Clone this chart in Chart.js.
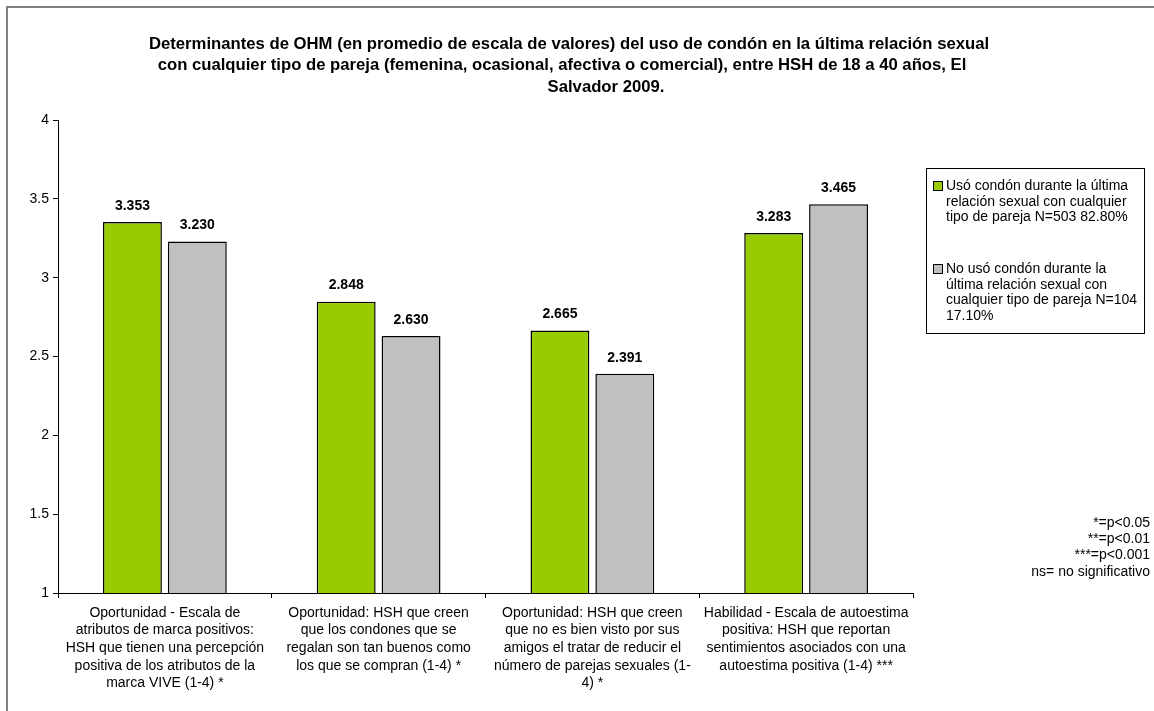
<!DOCTYPE html>
<html>
<head>
<meta charset="utf-8">
<script src="https://cdn.jsdelivr.net/npm/chart.js@4/dist/chart.umd.min.js"></script>
<style>
  html, body { margin: 0; padding: 0; background: #fff; }
  #wrap { width: 1154px; height: 711px; position: relative; }
</style>
</head>
<body>
<div id="wrap"><canvas id="ohmChart" width="1154" height="711"></canvas></div>
<script>
// data
const categories = [
  ["Oportunidad - Escala de", "atributos de marca positivos:", "HSH que tienen una percepción", "positiva de los atributos de la", "marca VIVE (1-4) *"],
  ["Oportunidad: HSH que creen", "que los condones que se", "regalan son tan buenos como", "los que se compran (1-4) *"],
  ["Oportunidad: HSH que creen", "que no es bien visto por sus", "amigos el tratar de reducir el", "número de parejas sexuales (1-", "4) *"],
  ["Habilidad - Escala de autoestima", "positiva: HSH que reportan", "sentimientos asociados con una", "autoestima positiva (1-4) ***"]
];
const usoValues = [3.353, 2.848, 2.665, 3.283];
const noUsoValues = [3.230, 2.630, 2.391, 3.465];
const seriesLabels = [
  ["Usó condón durante la última", "relación sexual con cualquier", "tipo de pareja N=503 82.80%"],
  ["No usó condón durante la", "última relación sexual con", "cualquier tipo de pareja N=104", "17.10%"]
];
const titleLines = [
  "Determinantes de OHM (en promedio de escala de valores) del uso de condón en la última relación sexual",
  "con cualquier tipo de pareja (femenina, ocasional, afectiva o comercial), entre HSH de 18 a 40 años, El",
  "Salvador 2009."
];
const footnotes = ["*=p<0.05", "**=p<0.01", "***=p<0.001", "ns= no significativo"];

const FONT = "Arial, 'Liberation Sans', sans-serif";
const colors = ["#99CC00", "#C0C0C0"];

// draws frame, title, value labels, legend and footnotes
const extrasPlugin = {
  id: 'extras',
  beforeDraw(chart) {
    const ctx = chart.ctx;
    ctx.save();
    ctx.fillStyle = '#fff';
    ctx.fillRect(0, 0, chart.width, chart.height);
    ctx.strokeStyle = '#808080';
    ctx.lineWidth = 2;
    ctx.strokeRect(7, 7, 1160, 720);
    ctx.restore();
  },
  afterDraw(chart) {
    const ctx = chart.ctx;
    ctx.save();
    // title
    ctx.fillStyle = '#000';
    ctx.font = "bold 16.7px " + FONT;
    ctx.textAlign = 'center';
    ctx.textBaseline = 'middle';
    ctx.fillText(titleLines[0], 569, 44);
    ctx.fillText(titleLines[1], 562, 65);
    ctx.fillText(titleLines[2], 606, 87);

    // value labels
    ctx.font = "bold 14px " + FONT;
    chart.data.datasets.forEach((ds, di) => {
      chart.getDatasetMeta(di).data.forEach((bar, i) => {
        ctx.fillText(ds.data[i].toFixed(3), bar.x, bar.y - 16);
      });
    });

    // legend
    ctx.strokeStyle = '#000';
    ctx.lineWidth = 1;
    ctx.strokeRect(926.5, 168.5, 218, 165);
    ctx.font = "14px " + FONT;
    ctx.textAlign = 'left';
    const starts = [186, 269];
    seriesLabels.forEach((lines, si) => {
      ctx.fillStyle = colors[si];
      ctx.fillRect(933.5, starts[si] - 4.5, 9, 9);
      ctx.strokeRect(933.5, starts[si] - 4.5, 9, 9);
      ctx.fillStyle = '#000';
      lines.forEach((ln, li) => ctx.fillText(ln, 946, starts[si] + li * 15.8));
    });

    // footnotes
    ctx.textAlign = 'right';
    footnotes.forEach((ln, i) => ctx.fillText(ln, 1150, 523 + i * 16.3));
    ctx.restore();
  }
};

const ohmChart = new Chart(document.getElementById('ohmChart').getContext('2d'), {
  type: 'bar',
  data: {
    labels: categories,
    datasets: [
      { label: seriesLabels[0].join(' '), data: usoValues, backgroundColor: colors[0], borderColor: '#000', borderWidth: 1.5 },
      { label: seriesLabels[1].join(' '), data: noUsoValues, backgroundColor: colors[1], borderColor: '#000', borderWidth: 1.5 }
    ]
  },
  options: {
    responsive: false,
    animation: false,
    devicePixelRatio: 1,
    categoryPercentage: 0.607,
    barPercentage: 0.908,
    layout: { padding: { left: 8, right: 241, top: 120, bottom: 0 } },
    plugins: {
      legend: { display: false },
      title: { display: false },
      tooltip: { enabled: false }
    },
    scales: {
      x: {
        afterFit: s => { s.height = 118; },
        border: { color: '#000', width: 1 },
        grid: { drawOnChartArea: false, drawTicks: true, tickLength: 5, color: '#000', offset: true },
        ticks: { color: '#000', font: { family: FONT, size: 14, lineHeight: 1.26 }, padding: 6, maxRotation: 0, autoSkip: false }
      },
      y: {
        min: 1,
        max: 4,
        afterFit: s => { s.width = 50; },
        border: { color: '#000', width: 1 },
        grid: { drawOnChartArea: false, drawTicks: true, tickLength: 5, color: '#000' },
        ticks: { stepSize: 0.5, color: '#000', font: { family: FONT, size: 14 }, padding: 4, callback: v => String(v) }
      }
    }
  },
  plugins: [extrasPlugin]
});
</script>
</body>
</html>
